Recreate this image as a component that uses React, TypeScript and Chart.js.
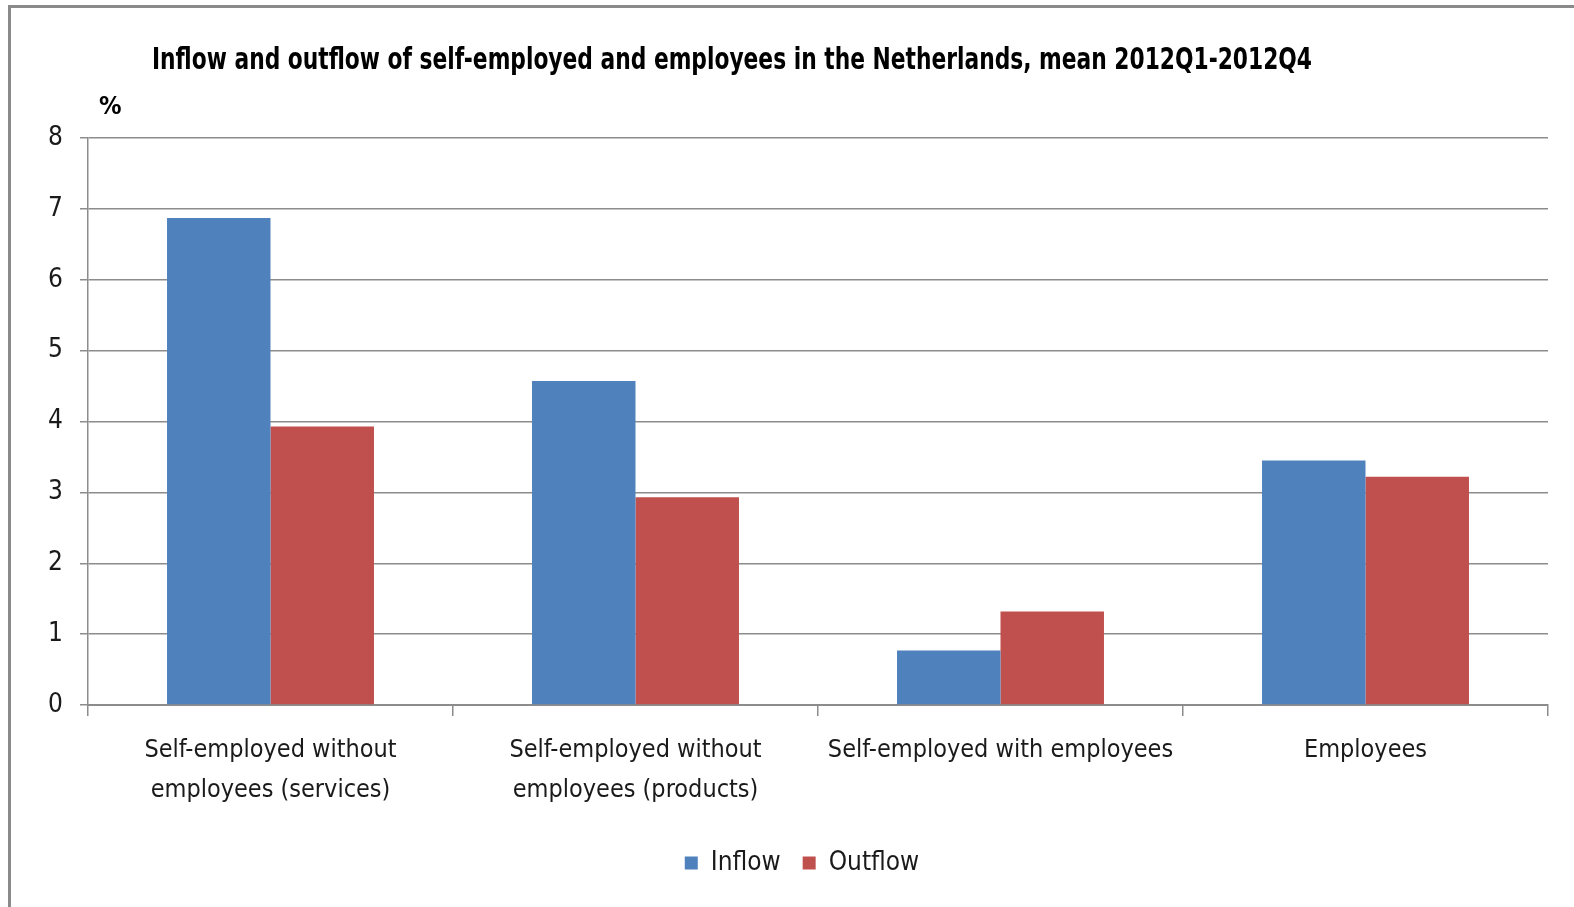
import React, { useEffect, useRef } from "react";
import { Chart, registerables } from "chart.js";

Chart.register(...registerables);

const titleText = "Inflow and outflow of self-employed and employees in the Netherlands, mean 2012Q1-2012Q4";
const unitLabel = "%";
const categories: (string | string[])[] = [
  ["Self-employed without", "employees (services)"],
  ["Self-employed without", "employees (products)"],
  "Self-employed with employees",
  "Employees",
];
const inflow = [6.87, 4.57, 0.77, 3.45];
const outflow = [3.93, 2.93, 1.32, 3.22];
const seriesNames = ["Inflow", "Outflow"];
const yMin = 0;
const yMax = 8;
const yStep = 1;

const FONT = '"Liberation Sans Narrow", "DejaVu Sans Condensed", "Open Sans", sans-serif';

export default function App() {
  const ref = useRef<HTMLCanvasElement | null>(null);

  useEffect(() => {
    if (!ref.current) return;
    const textPlugin = {
      id: "textPlugin",
      afterLayout(chart: any) {
        const lg = chart.legend;
        if (lg) {
          lg.left += 28;
          lg.right += 28;
        }
      },
      afterDraw(chart: any) {
        const ctx = chart.ctx;
        ctx.save();
        ctx.fillStyle = "#000";
        ctx.textAlign = "left";
        ctx.textBaseline = "alphabetic";
        ctx.font = `bold 30px ${FONT}`;
        ctx.fillText(titleText, 152, 69, 1160);
        ctx.font = `bold 25px ${FONT}`;
        ctx.fillText(unitLabel, 99, 114);
        ctx.restore();
      },
    };
    const chart = new Chart(ref.current, {
      type: "bar",
      data: {
        labels: categories,
        datasets: [
          { label: seriesNames[0], data: inflow, backgroundColor: "#4F81BD" },
          { label: seriesNames[1], data: outflow, backgroundColor: "#C0504D" },
        ],
      },
      options: {
        animation: false,
        responsive: false,
        maintainAspectRatio: false,
        layout: { padding: { left: 0, right: 26, top: 138, bottom: 21 } },
        datasets: {
          bar: { barPercentage: 1, categoryPercentage: 0.567 },
        },
        plugins: {
          title: { display: false },
          tooltip: { enabled: false },
          legend: {
            display: true,
            position: "bottom",
            labels: {
              boxWidth: 13,
              boxHeight: 13,
              padding: 22,
              color: "#1a1a1a",
              font: { family: FONT, size: 26 },
            },
          },
        },
        scales: {
          x: {
            afterFit: (s: any) => {
              s.height = 123;
            },
            grid: {
              offset: true,
              drawOnChartArea: false,
              drawTicks: true,
              tickLength: 11,
              color: "#8c8c8c",
              lineWidth: 1.5,
            },
            border: { display: true, color: "#8c8c8c", width: 2 },
            ticks: {
              color: "#1a1a1a",
              padding: 14,
              maxRotation: 0,
              autoSkip: false,
              font: { family: FONT, size: 25, lineHeight: 1.6 },
            },
          },
          y: {
            min: yMin,
            max: yMax,
            afterFit: (s: any) => {
              s.width = 88;
            },
            grid: {
              color: "#8c8c8c",
              lineWidth: 1.5,
              tickLength: 8,
            },
            border: { display: true, color: "#8c8c8c", width: 1.5 },
            ticks: {
              stepSize: yStep,
              color: "#1a1a1a",
              padding: 17,
              font: { family: FONT, size: 26 },
            },
          },
        },
      },
      plugins: [textPlugin],
    });
    return () => chart.destroy();
  }, []);

  return (
    <div
      style={{
        position: "fixed",
        left: 0,
        top: 0,
        width: 1574,
        height: 907,
        background: "#fff",
        overflow: "hidden",
      }}
    >
      <div
        style={{
          position: "absolute",
          left: 8,
          top: 5,
          width: 1600,
          height: 1000,
          borderLeft: "3px solid #8a8a8a",
          borderTop: "3px solid #8a8a8a",
        }}
      />
      <canvas
        ref={ref}
        width={1574}
        height={907}
        style={{ position: "absolute", left: 0, top: 0, width: 1574, height: 907 }}
      />
    </div>
  );
}
